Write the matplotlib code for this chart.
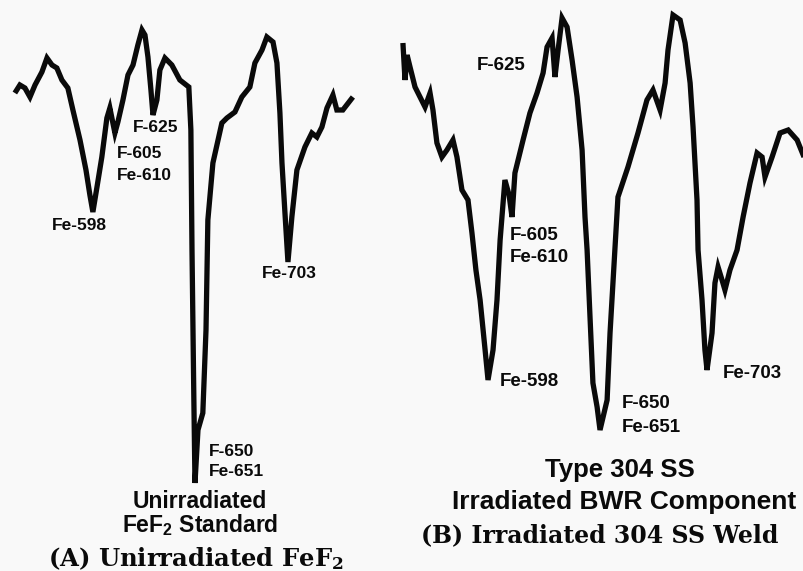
import numpy as np
import matplotlib
matplotlib.use("Agg")
import matplotlib.pyplot as plt

# Energy loss (eV) and relative intensity
# (A) unirradiated FeF2 standard
energy_a = [556.7, 559.4, 562.1, 564.8, 567.5, 571.2, 573.9, 576.6, 579.2, 581.9,
            585.1, 587.8, 591.6, 594.8, 596.9, 598.5, 600.7, 603.3, 606.0, 607.6,
            610.3, 611.9, 614.6, 617.3, 620.0, 622.6, 624.8, 626.4, 628.0, 629.6,
            630.7, 632.8, 634.4, 637.1, 640.8, 645.1, 649.9, 651.0, 651.6, 652.6,
            653.2, 654.8, 657.4, 659.1, 660.1, 662.8, 667.6, 670.3, 674.6, 678.3,
            682.6, 685.3, 689.1, 691.7, 695.0, 697.1, 698.7, 699.8, 701.4, 703.0,
            705.1, 707.8, 712.1, 715.8, 718.5, 721.2, 723.9, 727.1, 729.2, 732.4,
            737.8]
signal_a = [81.4, 83.0, 82.4, 80.6, 83.0, 85.6, 88.4, 87.0, 86.4, 84.0,
            82.4, 78.0, 72.0, 66.0, 61.0, 57.6, 62.6, 68.6, 76.4, 78.4,
            73.4, 75.6, 80.0, 85.0, 87.0, 91.0, 94.0, 93.0, 88.6, 82.0,
            77.0, 80.0, 86.0, 88.4, 87.0, 84.0, 82.6, 74.0, 50.0, 20.0,
            3.4, 14.0, 17.4, 34.0, 56.0, 67.4, 75.4, 76.4, 77.6, 80.6,
            82.6, 87.4, 90.0, 92.6, 91.6, 87.4, 77.4, 67.4, 57.4, 47.6,
            56.6, 66.0, 70.6, 73.4, 72.6, 74.6, 78.4, 81.0, 78.0, 78.0,
            80.6]

# (B) irradiated 304 SS weld (BWR component)
energy_b = [557.2, 558.2, 559.2, 560.6, 563.0, 565.4, 567.8, 570.2, 571.6, 573.5,
            575.9, 578.3, 581.2, 583.1, 585.5, 588.4, 590.3, 592.2, 594.2, 596.6,
            598.0, 600.4, 602.3, 603.8, 606.1, 608.1, 609.5, 610.9, 614.8, 618.1,
            621.5, 624.4, 626.3, 628.7, 630.1, 631.6, 633.5, 635.9, 638.3, 640.7,
            643.1, 644.5, 645.5, 646.9, 648.3, 650.3, 651.7, 655.1, 656.5, 657.9,
            660.3, 665.1, 669.9, 674.2, 677.1, 680.5, 682.9, 684.3, 686.7, 690.1,
            692.5, 694.9, 696.3, 698.2, 698.7, 700.6, 702.0, 703.0, 705.4, 706.8,
            708.3, 710.2, 711.6, 714.0, 717.4, 720.3, 723.6, 727.0, 729.4, 730.8,
            734.2, 738.0, 741.9, 746.2, 749.5]
signal_b = [91.4, 84.0, 89.0, 86.6, 82.6, 80.6, 78.6, 81.4, 78.0, 71.4,
            68.6, 70.0, 72.0, 68.6, 62.0, 60.0, 53.4, 46.0, 40.0, 30.0,
            24.0, 30.0, 40.0, 52.0, 64.0, 61.0, 56.6, 65.4, 72.0, 77.4,
            81.4, 85.4, 90.6, 92.4, 84.6, 90.0, 96.4, 94.6, 88.0, 80.6,
            70.0, 56.6, 50.0, 36.6, 23.4, 18.6, 14.0, 20.0, 33.4, 43.4,
            60.6, 66.6, 73.4, 80.0, 82.0, 78.0, 83.4, 90.0, 97.0, 96.0,
            91.4, 83.4, 74.6, 60.0, 50.0, 40.0, 30.0, 26.0, 33.4, 43.4,
            46.6, 44.0, 42.0, 46.0, 50.0, 56.6, 63.4, 69.4, 68.6, 64.6,
            68.6, 73.4, 74.0, 72.0, 68.6]

# peak labels: text, energy, intensity
labels_a = [("Fe-598", 576.6, 54.8), ("F-625", 620.0, 74.4), ("F-605", 611.4, 69.4),
            ("Fe-610", 611.4, 65.0), ("Fe-703", 689.1, 45.2), ("F-650", 660.7, 9.6),
            ("Fe-651", 660.7, 5.6)]
labels_b = [("F-625", 592.7, 87.0), ("F-605", 608.5, 53.0), ("Fe-610", 608.5, 48.4),
            ("Fe-598", 603.8, 23.6), ("F-650", 662.2, 19.4), ("Fe-651", 662.2, 14.4),
            ("Fe-703", 710.7, 25.4)]

bg = "#f9f9f9"
ink = "#0a0a0a"
sans = "Liberation Sans"
serif = "DejaVu Serif"

fig = plt.figure(figsize=(8.04, 5.71), dpi=100, facecolor=bg)

W, H = 804.0, 571.0
ax_a = fig.add_axes([10 / W, 71 / H, 350 / W, 500 / H])
ax_b = fig.add_axes([395 / W, 71 / H, 409 / W, 500 / H])

for ax, e, s, xl, labs, fs in [(ax_a, energy_a, signal_a, (554.1, 741.6), labels_a, 12.5),
                               (ax_b, energy_b, signal_b, (553.4, 749.5), labels_b, 13.5)]:
    ax.plot(e, s, color=ink, lw=3.8, solid_joinstyle="miter", solid_capstyle="butt")
    ax.set_xlim(*xl)
    ax.set_ylim(0, 100)
    ax.axis("off")
    ax.patch.set_alpha(0)
    for t, x, y in labs:
        ax.text(x, y, t, fontsize=fs, family=sans, weight="bold", color=ink,
                ha="left", va="center")

# captions
fig.text(200 / W, 1 - 514 / H, "Unirradiated\n" + r"FeF$\mathregular{_2}$ Standard",
         fontsize=16.5, family=sans, weight="bold", color=ink, ha="center",
         va="center", multialignment="center", linespacing=1.0)
fig.text(196 / W, 1 - 559 / H, r"(A) Unirradiated FeF$\mathregular{_2}$", fontsize=17.5,
         family=serif, weight="bold", color=ink, ha="center", va="center")

fig.text(620 / W, 1 - 470 / H, "Type 304 SS", fontsize=18.5, family=sans,
         weight="bold", color=ink, ha="center", va="center")
fig.text(624 / W, 1 - 502 / H, "Irradiated BWR Component", fontsize=19, family=sans,
         weight="bold", color=ink, ha="center", va="center")
fig.text(600 / W, 1 - 535 / H, "(B) Irradiated 304 SS Weld", fontsize=17,
         family=serif, weight="bold", color=ink, ha="center", va="center")

fig.savefig("out.png", dpi=100, facecolor=bg)
